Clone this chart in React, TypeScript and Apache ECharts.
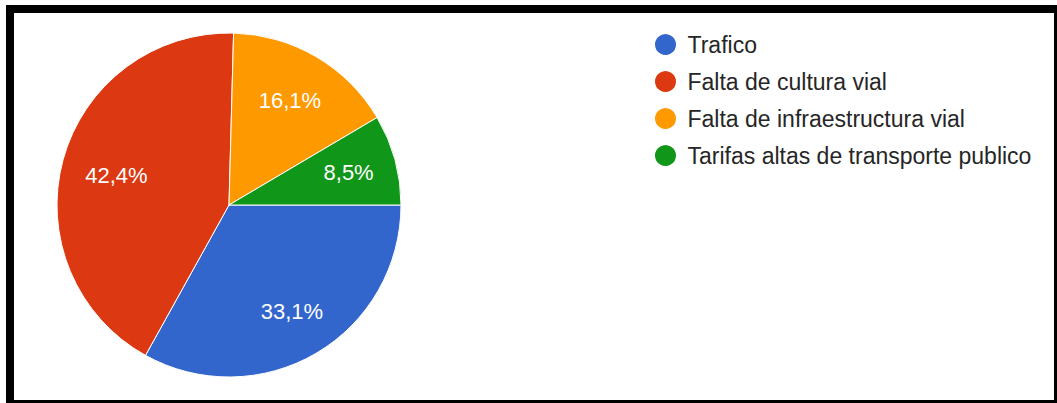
import React, { useEffect, useRef } from "react";
import * as echarts from "echarts";

const categories = [
  "Trafico",
  "Falta de cultura vial",
  "Falta de infraestructura vial",
  "Tarifas altas de transporte publico",
];
const percentages = [33.1, 42.4, 16.1, 8.5];
const colors = ["#3366CC", "#DC3912", "#FF9900", "#109618"];

const FONT = "'Liberation Sans', Arial, sans-serif";

export default function App() {
  const ref = useRef<HTMLDivElement>(null);

  useEffect(() => {
    if (!ref.current) return;
    const chart = echarts.init(ref.current, undefined, { renderer: "svg" });
    const data = categories.map((name, i) => ({
      name,
      value: percentages[i],
      itemStyle: { color: colors[i] },
    }));
    const labelOffsets: Record<number, number[]> = { 1: [7, 3], 2: [-2, 2] };
    const labelData = categories.map((name, i) => ({
      name,
      value: percentages[i],
      ...(labelOffsets[i] ? { label: { offset: labelOffsets[i] } } : {}),
    }));
    const center = [229, 205];
    const R = 172;
    chart.setOption({
      animation: false,
      textStyle: { fontFamily: FONT },
      legend: {
        orient: "vertical",
        left: 653,
        top: 32,
        padding: 0,
        icon: "circle",
        itemWidth: 34,
        itemHeight: 23,
        itemGap: 12,
        data: categories,
        textStyle: {
          fontSize: 23,
          lineHeight: 23,
          color: "#262626",
          fontFamily: FONT,
        },
        selectedMode: false,
      },
      series: [
        {
          type: "pie",
          center,
          radius: [0, R],
          startAngle: 0,
          clockwise: true,
          silent: true,
          label: { show: false },
          labelLine: { show: false },
          itemStyle: { borderColor: "#ffffff", borderWidth: 1 },
          data,
        },
        {
          type: "pie",
          center,
          radius: [70, R],
          startAngle: 0,
          clockwise: true,
          silent: true,
          itemStyle: { color: "rgba(0,0,0,0)", borderWidth: 0 },
          labelLine: { show: false },
          label: {
            show: true,
            position: "inside",
            color: "#ffffff",
            fontSize: 22,
            fontFamily: FONT,
            formatter: (p: any) => p.value.toFixed(1).replace(".", ",") + "%",
          },
          data: labelData,
        },
      ],
    });
    return () => chart.dispose();
  }, []);

  return (
    <div
      style={{
        position: "fixed",
        left: 0,
        top: 0,
        width: 1057,
        height: 403,
        background: "#ffffff",
        overflow: "hidden",
      }}
    >
      <div
        style={{
          position: "absolute",
          left: 6,
          top: 5,
          width: 1051,
          height: 398,
          boxSizing: "border-box",
          borderStyle: "solid",
          borderColor: "#000000",
          borderLeftWidth: 8,
          borderTopWidth: 8,
          borderRightWidth: 3,
          borderBottomWidth: 3,
        }}
      />
      <div
        ref={ref}
        style={{ position: "absolute", left: 0, top: 0, width: 1057, height: 403 }}
      />
    </div>
  );
}
